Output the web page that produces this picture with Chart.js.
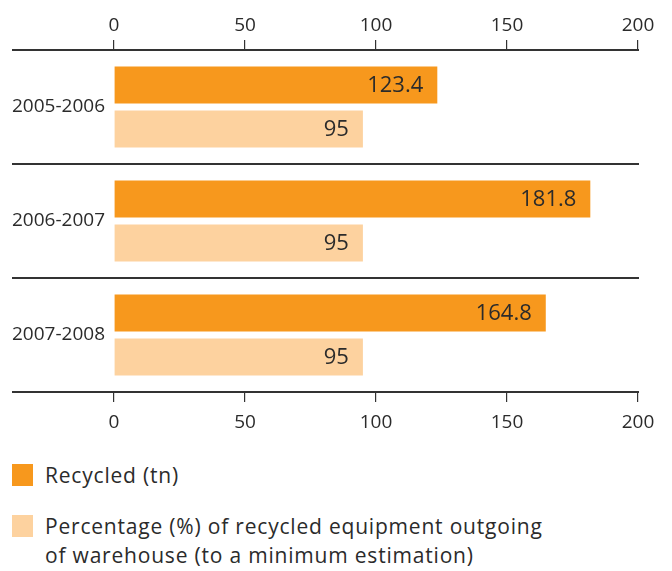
<!DOCTYPE html>
<html>
<head>
<meta charset="utf-8">
<script src="https://cdn.jsdelivr.net/npm/chart.js@4"></script>
<style>
  html, body { margin: 0; padding: 0; background: #fff; }
  body { width: 672px; height: 571px; overflow: hidden; font-family: "Open Sans", sans-serif; color: #2b2b2b; }
  #wrap { position: relative; width: 672px; height: 440px; }
  .legend { position: absolute; left: 12px; font-size: 21px; line-height: 29px; letter-spacing: 0.8px; }
  .legend .sw { position: absolute; left: 0; top: 3px; width: 21px; height: 22px; }
  .legend .tx { margin-left: 33px; display: block; }
</style>
</head>
<body>
<div id="wrap"><canvas id="recycleChart"></canvas></div>
<div class="legend" style="top:461px"><span class="sw" style="background:#F7981D"></span><span class="tx">Recycled (tn)</span></div>
<div class="legend" style="top:512px"><span class="sw" style="background:#FDD29F"></span><span class="tx">Percentage (%) of recycled equipment outgoing<br>of warehouse (to a minimum estimation)</span></div>
<script>
// Recycling figures per period
const periods = ["2005-2006", "2006-2007", "2007-2008"];
const recycledTn = [123.4, 181.8, 164.8];
const recycledPct = [95, 95, 95];
const axisTicks = [0, 50, 100, 150, 200];

const lineColor = '#333333';
const textColor = '#2b2b2b';

// horizontal rules between periods, running under the labels too,
// plus the values written inside the bar ends
const decorations = {
  id: 'decorations',
  afterDraw(chart) {
    const ctx = chart.ctx;
    const y = chart.scales.y;
    const area = chart.chartArea;
    const band = (y.getPixelForValue(1) - y.getPixelForValue(0));
    ctx.save();
    ctx.strokeStyle = lineColor;
    ctx.lineWidth = 2;
    for (let i = 0; i <= periods.length; i++) {
      const py = Math.round(y.getPixelForValue(i) - band / 2);
      ctx.beginPath();
      ctx.moveTo(12, py);
      ctx.lineTo(area.right + 1, py);
      ctx.stroke();
    }
    ctx.fillStyle = textColor;
    ctx.font = '22px "Open Sans"';
    ctx.textAlign = 'right';
    ctx.textBaseline = 'middle';
    chart.data.datasets.forEach((ds, di) => {
      chart.getDatasetMeta(di).data.forEach((bar, i) => {
        ctx.fillText(String(ds.data[i]), bar.x - 14, bar.y + 1);
      });
    });
    ctx.restore();
  }
};

const tickFont = { family: 'Open Sans', size: 19 };
const onlyAxisTicks = (v) => axisTicks.includes(v) ? v : null;
const gridOpts = { drawOnChartArea: false, drawTicks: true, tickLength: 10, color: lineColor, lineWidth: 1.2 };

new Chart(document.getElementById('recycleChart'), {
  type: 'bar',
  data: {
    labels: periods,
    datasets: [
      { label: 'Recycled (tn)', data: recycledTn, backgroundColor: '#F7981D' },
      { label: 'Percentage (%) of recycled equipment outgoing of warehouse (to a minimum estimation)', data: recycledPct, backgroundColor: '#FDD29F' }
    ]
  },
  options: {
    indexAxis: 'y',
    responsive: true,
    maintainAspectRatio: false,
    animation: false,
    categoryPercentage: 0.77,
    barPercentage: 0.84,
    layout: { padding: { left: 0, right: 34, top: 0, bottom: 0 } },
    plugins: { legend: { display: false }, tooltip: { enabled: false } },
    scales: {
      x: {
        position: 'bottom',
        min: 0, max: 200,
        afterBuildTicks: (s) => { s.ticks = axisTicks.map(v => ({ value: v })); },
        afterFit: (s) => { s.height = 48; },
        border: { display: false },
        grid: gridOpts,
        ticks: { color: textColor, font: tickFont, padding: 9, callback: onlyAxisTicks }
      },
      x2: {
        position: 'top',
        axis: 'x',
        min: 0, max: 200,
        afterBuildTicks: (s) => { s.ticks = axisTicks.map(v => ({ value: v })); },
        afterFit: (s) => { s.height = 50; },
        border: { display: false },
        grid: gridOpts,
        ticks: { color: textColor, font: tickFont, padding: 3, callback: onlyAxisTicks }
      },
      y: {
        afterFit: (s) => { s.width = 114; },
        border: { display: false },
        grid: { display: false, drawTicks: false },
        ticks: { color: textColor, font: { family: 'Open Sans', size: 19 }, padding: 9 }
      }
    }
  },
  plugins: [decorations]
});
</script>
</body>
</html>
